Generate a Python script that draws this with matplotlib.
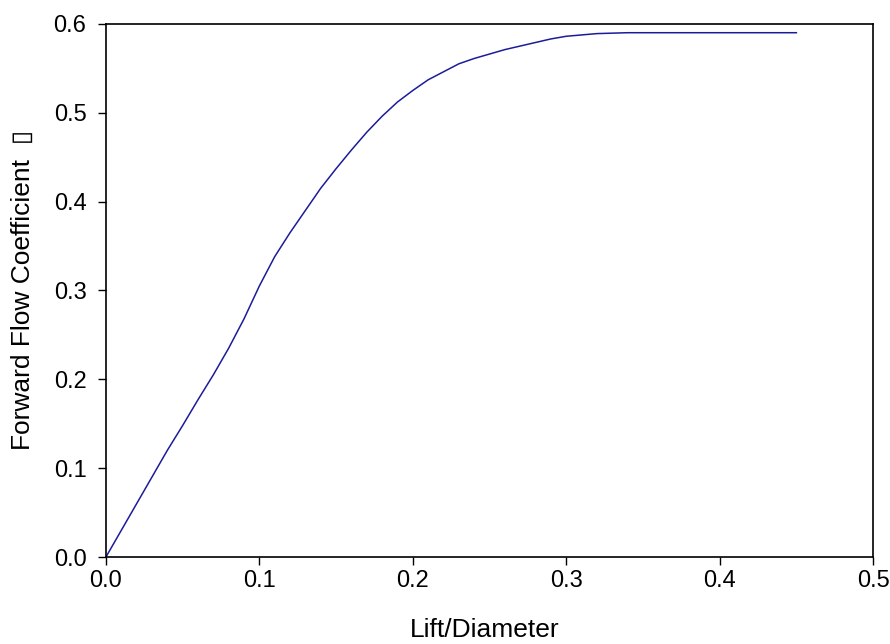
import numpy as np
import matplotlib
matplotlib.use('Agg')
import matplotlib.pyplot as plt

plt.rc('font', family='Liberation Sans')

# values
lift_diam = [0.0, 0.01, 0.02, 0.03, 0.04, 0.05, 0.06, 0.07, 0.08, 0.09,
             0.10, 0.11, 0.12, 0.13, 0.14, 0.15, 0.16, 0.17, 0.18, 0.19,
             0.20, 0.21, 0.22, 0.23, 0.24, 0.25, 0.26, 0.27, 0.28, 0.29,
             0.30, 0.32, 0.34, 0.36, 0.40, 0.45]
flow_coef = [0.0, 0.03, 0.06, 0.09, 0.12, 0.148, 0.177, 0.205, 0.235, 0.268,
             0.305, 0.338, 0.365, 0.39, 0.415, 0.437, 0.458, 0.478, 0.496, 0.512,
             0.525, 0.537, 0.546, 0.555, 0.561, 0.566, 0.571, 0.575, 0.579, 0.583,
             0.586, 0.589, 0.59, 0.59, 0.59, 0.59]

fig = plt.figure(figsize=(8.9, 6.44), dpi=100)
ax = fig.add_axes([0.119, 0.135, 0.862, 0.828])

ax.plot(lift_diam, flow_coef, '-', color='#1c1c9a', lw=1.1)

ax.set_xlim(0, 0.5)
ax.set_ylim(0, 0.6)
ax.set_xticks(np.arange(0, 0.51, 0.1))
ax.set_yticks(np.arange(0, 0.61, 0.1))
ax.xaxis.set_major_formatter(plt.FormatStrFormatter('%.1f'))
ax.yaxis.set_major_formatter(plt.FormatStrFormatter('%.1f'))
ax.tick_params(direction='out', length=6, width=1, labelsize=17)
ax.tick_params(axis='x', pad=3)
ax.tick_params(axis='y', pad=8)
for s in ax.spines.values():
    s.set_linewidth(1.2)

fig.text(0.545, 1 - 630/644, 'Lift/Diameter', fontsize=19, ha='center', va='center')
fig.text(23/890, 1 - 290/644, 'Forward Flow Coefficient  \u25af', fontsize=19,
         rotation=90, ha='center', va='center',
         family=['Liberation Sans', 'DejaVu Sans'])

plt.savefig('out.png', dpi=100)
plt.close()
